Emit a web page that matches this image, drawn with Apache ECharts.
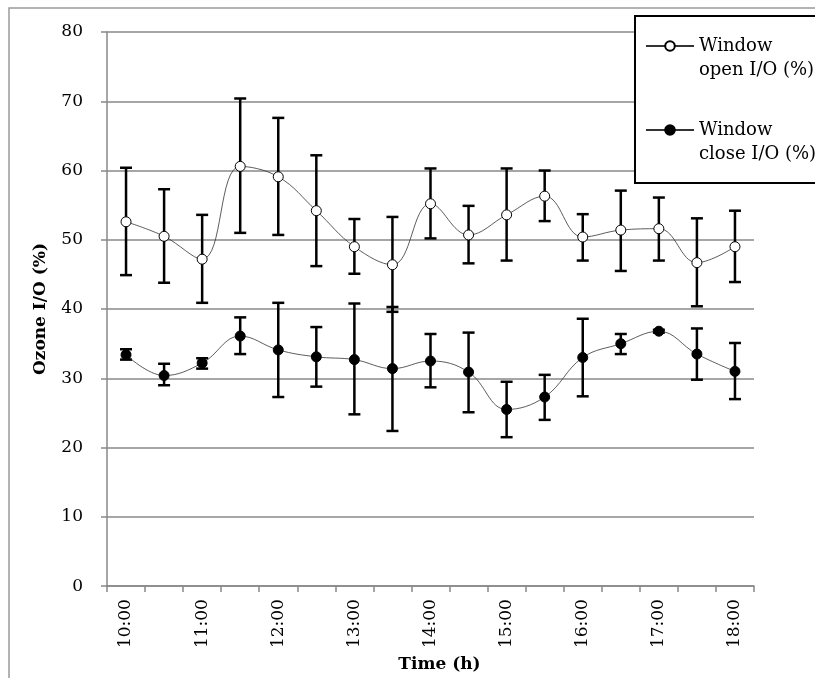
<!DOCTYPE html>
<html>
<head>
<meta charset="utf-8">
<script src="https://cdn.jsdelivr.net/npm/echarts@6/dist/echarts.min.js"></script>
<style>html,body{margin:0;padding:0;background:#fff}#c{width:815px;height:678px}</style>
</head>
<body>
<div id="c"></div>
<script>
const categories = ['10:00','10:30','11:00','11:30','12:00','12:30','13:00','13:30','14:00','14:30','15:00','15:30','16:00','16:30','17:00','17:30','18:00'];
const yTicks = [0, 10, 20, 30, 40, 50, 60, 70, 80];

const openMean = [52.6, 50.5, 47.2, 60.6, 59.1, 54.2, 49.0, 46.4, 55.2, 50.7, 53.6, 56.3, 50.4, 51.4, 51.6, 46.7, 49.0];
const openHigh = [60.4, 57.3, 53.6, 70.4, 67.6, 62.2, 53.0, 53.3, 60.3, 54.9, 60.3, 60.0, 53.7, 57.1, 56.1, 53.1, 54.2];
const openLow  = [44.9, 43.8, 40.9, 51.0, 50.7, 46.2, 45.1, 39.6, 50.2, 46.6, 47.0, 52.7, 47.0, 45.5, 47.0, 40.4, 43.9];

const closeMean = [33.4, 30.4, 32.2, 36.1, 34.1, 33.1, 32.7, 31.4, 32.5, 30.9, 25.5, 27.3, 33.0, 35.0, 36.8, 33.5, 31.0];
const closeHigh = [34.2, 32.1, 32.9, 38.8, 40.9, 37.4, 40.8, 40.3, 36.4, 36.6, 29.5, 30.5, 38.6, 36.4, 37.0, 37.2, 35.1];
const closeLow  = [32.7, 29.0, 31.4, 33.5, 27.3, 28.8, 24.8, 22.4, 28.7, 25.1, 21.5, 24.0, 27.4, 33.5, 36.6, 29.8, 27.0];

const FONT = 'DejaVu Serif';

function errData(hi, lo) {
  return categories.map((c, i) => [i, hi[i], lo[i]]);
}

function renderErr(params, api) {
  const x = api.value(0);
  const top = api.coord([x, api.value(1)]);
  const bot = api.coord([x, api.value(2)]);
  const w = 6;
  const st = { stroke: '#000', lineWidth: 2.5 };
  return {
    type: 'group',
    children: [
      { type: 'line', shape: { x1: top[0], y1: top[1], x2: bot[0], y2: bot[1] }, style: st },
      { type: 'line', shape: { x1: top[0] - w, y1: top[1], x2: top[0] + w, y2: top[1] }, style: st },
      { type: 'line', shape: { x1: bot[0] - w, y1: bot[1], x2: bot[0] + w, y2: bot[1] }, style: st }
    ]
  };
}

const chart = echarts.init(document.getElementById('c'), null, { renderer: 'canvas' });
chart.setOption({
  animation: false,
  backgroundColor: '#fff',
  textStyle: { fontFamily: FONT, color: '#000' },
  graphic: [
    { type: 'rect', z: 1, shape: { x: 9, y: 8, width: 900, height: 800 }, style: { fill: 'none', stroke: '#9a9a9a', lineWidth: 1.5 } },
    { type: 'rect', z: 5, shape: { x: 635, y: 16, width: 300, height: 167 }, style: { fill: '#fff', stroke: '#000', lineWidth: 2 } }
  ],
  grid: { left: 107, right: 61, top: 32, bottom: 86 },
  legend: {
    z: 10,
    orient: 'vertical',
    left: 645,
    top: 10,
    padding: 0,
    itemWidth: 48,
    itemHeight: 12,
    itemGap: 12,
    data: ['Window open I/O (%)', 'Window close I/O (%)'],
    formatter: function (name) {
      return name === 'Window open I/O (%)' ? '\nWindow\nopen I/O (%)' : '\nWindow\nclose I/O (%)';
    },
    textStyle: { fontFamily: FONT, fontSize: 18, lineHeight: 24, color: '#000' }
  },
  xAxis: {
    type: 'category',
    data: categories,
    boundaryGap: true,
    name: 'Time (h)',
    nameLocation: 'middle',
    nameGap: 67,
    nameTextStyle: { fontFamily: FONT, fontSize: 17, fontWeight: 'bold', color: '#000', padding: [0, 0, 0, 18] },
    axisLine: { lineStyle: { color: '#888', width: 1.5 } },
    axisTick: { show: true, interval: 0, alignWithLabel: false, length: 6, lineStyle: { color: '#888', width: 1.5 } },
    axisLabel: { interval: 1, rotate: 90, margin: 13, fontFamily: FONT, fontSize: 17, color: '#000' },
    splitLine: { show: false }
  },
  yAxis: {
    type: 'value',
    min: 0,
    max: 80,
    interval: 10,
    name: 'Ozone I/O (%)',
    nameLocation: 'middle',
    nameGap: 58,
    nameTextStyle: { fontFamily: FONT, fontSize: 17, fontWeight: 'bold', color: '#000' },
    axisLine: { show: true, lineStyle: { color: '#888', width: 1.5 } },
    axisTick: { show: true, length: 6, lineStyle: { color: '#888', width: 1.5 } },
    axisLabel: {
      margin: 24, fontFamily: FONT, fontSize: 17, color: '#000',
      formatter: function (v) { return yTicks.indexOf(v) >= 0 ? String(v) : ''; }
    },
    splitLine: { show: true, lineStyle: { color: '#888', width: 1.5 } }
  },
  series: [
    {
      name: 'openErr', type: 'custom', z: 2, silent: true,
      renderItem: renderErr, encode: { x: 0, y: [1, 2] }, data: errData(openHigh, openLow)
    },
    {
      name: 'closeErr', type: 'custom', z: 2, silent: true,
      renderItem: renderErr, encode: { x: 0, y: [1, 2] }, data: errData(closeHigh, closeLow)
    },
    {
      name: 'Window open I/O (%)', type: 'line', z: 3, data: openMean, smooth: 0.4,
      symbol: 'circle', symbolSize: 10,
      lineStyle: { color: '#333', width: 0.8 },
      itemStyle: { color: '#fff', borderColor: '#000', borderWidth: 1 }
    },
    {
      name: 'Window close I/O (%)', type: 'line', z: 3, data: closeMean, smooth: 0.4,
      symbol: 'circle', symbolSize: 10,
      lineStyle: { color: '#333', width: 0.8 },
      itemStyle: { color: '#000', borderColor: '#000', borderWidth: 1 }
    }
  ]
});
</script>
</body>
</html>
